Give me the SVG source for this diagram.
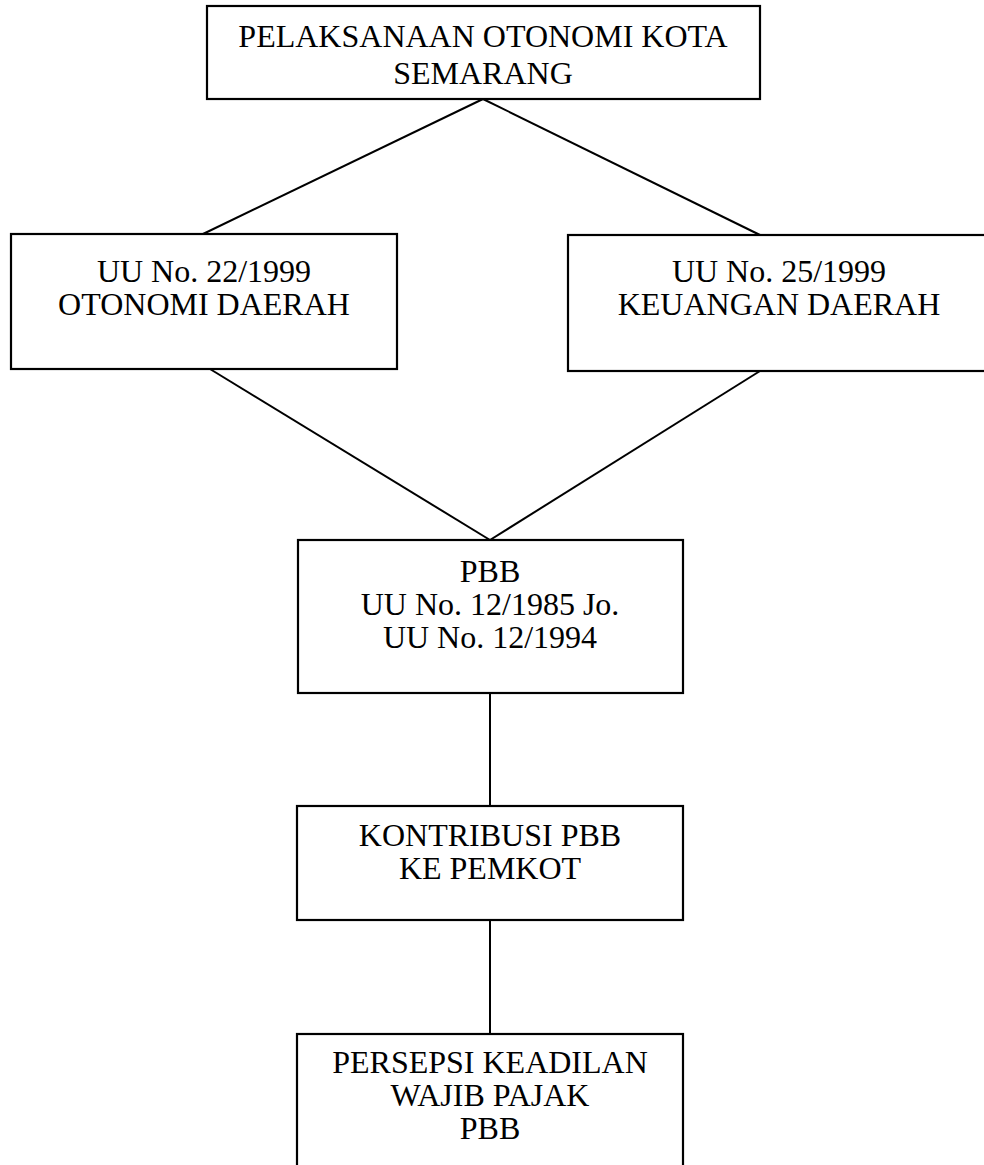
<svg xmlns="http://www.w3.org/2000/svg" width="984" height="1165" viewBox="0 0 984 1165">
<style>
.box{fill:#fff;stroke:#000;stroke-width:2.2}
.ln{fill:none;stroke:#000;stroke-width:2}
text{font-family:"Liberation Serif","Times New Roman",serif;font-size:32px;fill:#000;text-anchor:middle}
</style>
<rect width="984" height="1165" fill="#fff"/>
<g id="connectors">
<line class="ln" x1="483" y1="99" x2="203" y2="234"/>
<line class="ln" x1="483" y1="99" x2="760" y2="235"/>
<line class="ln" x1="210" y1="369" x2="490" y2="540"/>
<line class="ln" x1="760" y1="371" x2="490" y2="540"/>
<line class="ln" x1="490" y1="693" x2="490" y2="806"/>
<line class="ln" x1="490" y1="920" x2="490" y2="1034"/>
</g>
<g id="node-top">
<rect class="box" x="207" y="6" width="553" height="93"/>
<text x="483" y="47">PELAKSANAAN OTONOMI KOTA</text>
<text x="483" y="84">SEMARANG</text>
</g>
<g id="node-uu22">
<rect class="box" x="11" y="234" width="386" height="135"/>
<text x="204" y="282">UU No. 22/1999</text>
<text x="204" y="315">OTONOMI DAERAH</text>
</g>
<g id="node-uu25">
<rect class="box" x="568" y="235" width="430" height="136"/>
<text x="779" y="282">UU No. 25/1999</text>
<text x="779" y="315">KEUANGAN DAERAH</text>
</g>
<g id="node-pbb">
<rect class="box" x="298" y="540" width="385" height="153"/>
<text x="490" y="582">PBB</text>
<text x="490" y="615">UU No. 12/1985 Jo.</text>
<text x="490" y="648">UU No. 12/1994</text>
</g>
<g id="node-kontribusi">
<rect class="box" x="297" y="806" width="386" height="114"/>
<text x="490" y="846">KONTRIBUSI PBB</text>
<text x="490" y="879">KE PEMKOT</text>
</g>
<g id="node-persepsi">
<rect class="box" x="297" y="1034" width="386" height="160"/>
<text x="490" y="1073">PERSEPSI KEADILAN</text>
<text x="490" y="1106">WAJIB PAJAK</text>
<text x="490" y="1139">PBB</text>
</g>
</svg>
